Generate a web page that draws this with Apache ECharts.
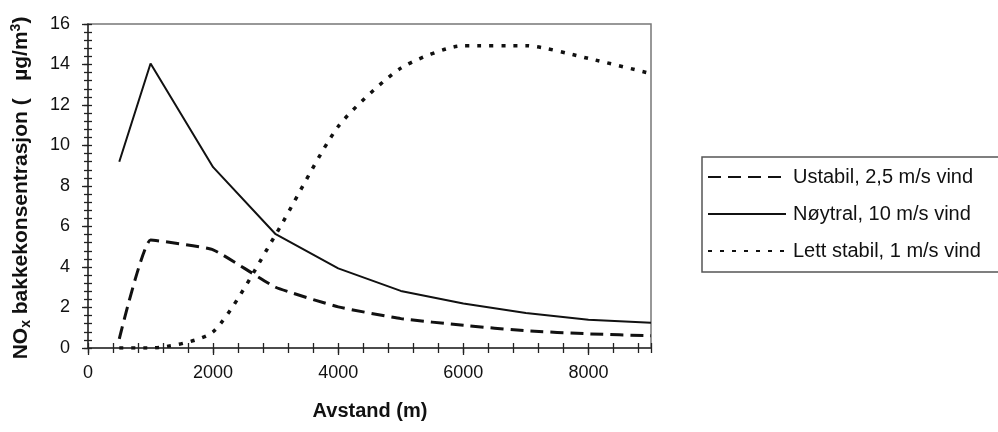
<!DOCTYPE html>
<html>
<head>
<meta charset="utf-8">
<script src="https://cdn.jsdelivr.net/npm/echarts@6/dist/echarts.min.js"></script>
<style>
html,body{margin:0;padding:0;background:#fff;}
#chart{width:998px;height:432px;}
</style>
</head>
<body>
<div id="chart"></div>
<script>
// ---- data ----
var distances = [500, 1000, 2000, 3000, 4000, 5000, 6000, 7000, 8000, 9000];
var ustabil   = [0.45, 5.33, 4.85, 3.0, 2.03, 1.45, 1.12, 0.85, 0.7, 0.6];
var noytral   = [9.2, 14.05, 8.93, 5.62, 3.93, 2.82, 2.2, 1.73, 1.4, 1.25];
var lettStabil = [0, 0, 0.8, 5.6, 10.94, 13.82, 14.93, 14.93, 14.3, 13.55];
var seriesNames = ['Ustabil, 2,5 m/s vind', 'Nøytral, 10 m/s vind', 'Lett stabil, 1 m/s vind'];
var xTitle = 'Avstand (m)';

function pairs(vals){ return distances.map(function(d,i){ return [d, vals[i]]; }); }

var FONT = "'Liberation Sans', Arial, sans-serif";
var chart = echarts.init(document.getElementById('chart'), null, {renderer:'canvas'});

var xMin = 0, xMax = 9000, yMin = 0, yMax = 16;
function blank(){ return ''; }
function xAx(extra){
  return Object.assign({type:'value', min:xMin, max:xMax, position:'bottom', offset:0, splitLine:{show:false},
    axisLine:{show:false}, axisLabel:{show:true, formatter:blank}, axisTick:{show:false}}, extra);
}
function yAx(extra){
  return Object.assign({type:'value', min:yMin, max:yMax, position:'left', offset:0, splitLine:{show:false},
    axisLine:{show:false}, axisLabel:{show:true, formatter:blank}, axisTick:{show:false}}, extra);
}
var tickStyle = {color:'#222', width:1.3};

var option = {
  animation:false,
  backgroundColor:'#fff',
  grid:{left:88, top:24, width:563, height:324, show:true, borderColor:'#777', borderWidth:1.5, backgroundColor:'transparent'},
  xAxis:[
    xAx({interval:2000,
      axisLine:{show:true, onZero:false, lineStyle:{color:'#333', width:1.5}},
      axisTick:{show:true, inside:false, length:7, lineStyle:tickStyle},
      axisLabel:{show:true, showMaxLabel:false, margin:16, fontFamily:FONT, fontSize:18, color:'#111',
        formatter:function(v){ return String(v); }}}),
    xAx({interval:400, axisTick:{show:true, inside:false, length:5, lineStyle:tickStyle}}),
    xAx({interval:400, axisTick:{show:true, inside:true, length:5, lineStyle:tickStyle}})
  ],
  yAxis:[
    yAx({interval:2,
      axisLine:{show:true, onZero:false, lineStyle:{color:'#333', width:1.5}},
      axisTick:{show:true, inside:false, length:6, lineStyle:tickStyle},
      axisLabel:{show:true, margin:18, fontFamily:FONT, fontSize:18, color:'#111',
        formatter:function(v){ return String(v); }}}),
    yAx({interval:0.4, axisTick:{show:true, inside:false, length:4, lineStyle:tickStyle}}),
    yAx({interval:0.4, axisTick:{show:true, inside:true, length:4, lineStyle:tickStyle}})
  ],
  legend:{
    orient:'vertical', left:707, top:166, padding:0,
    itemWidth:78, itemHeight:22, itemGap:15,
    itemStyle:{opacity:0},
    textStyle:{fontFamily:FONT, fontSize:20, color:'#111', lineHeight:22, padding:[0,0,0,2]},
    data:seriesNames
  },
  series:[
    {name:seriesNames[0], type:'line', data:pairs(ustabil), symbol:'none', smooth:0.12,
      itemStyle:{color:'rgba(0,0,0,0)'},
      lineStyle:{color:'#111', width:3, type:[13,7]}},
    {name:seriesNames[1], type:'line', data:pairs(noytral), symbol:'none', smooth:false,
      itemStyle:{color:'rgba(0,0,0,0)'},
      lineStyle:{color:'#111', width:2}},
    {name:seriesNames[2], type:'line', data:pairs(lettStabil), symbol:'none', smooth:0.22,
      itemStyle:{color:'rgba(0,0,0,0)'},
      lineStyle:{color:'#111', width:3.5, type:[4,8]}}
  ],
  graphic:[
    {type:'rect', shape:{x:702, y:157, width:310, height:115}, style:{fill:'none', stroke:'#555', lineWidth:1.5}, z:0},
    {type:'text', x:370, y:411, style:{text:xTitle, font:'bold 20px '+FONT, fill:'#111', align:'center', verticalAlign:'middle'}},
    {type:'text', x:21, y:188, rotation:Math.PI/2,
      style:{text:'{a|NO}{s|x}{a| bakkekonsentrasjon (   µg/m}{p|3}{a|)}', align:'center', verticalAlign:'middle',
        rich:{
          a:{fontFamily:FONT, fontWeight:'bold', fontSize:21, fill:'#111', lineHeight:24},
          s:{fontFamily:FONT, fontWeight:'bold', fontSize:14, fill:'#111', verticalAlign:'bottom', lineHeight:24},
          p:{fontFamily:FONT, fontWeight:'bold', fontSize:14, fill:'#111', verticalAlign:'top', lineHeight:24}
        }}}
  ]
};
chart.setOption(option);
</script>
</body>
</html>
